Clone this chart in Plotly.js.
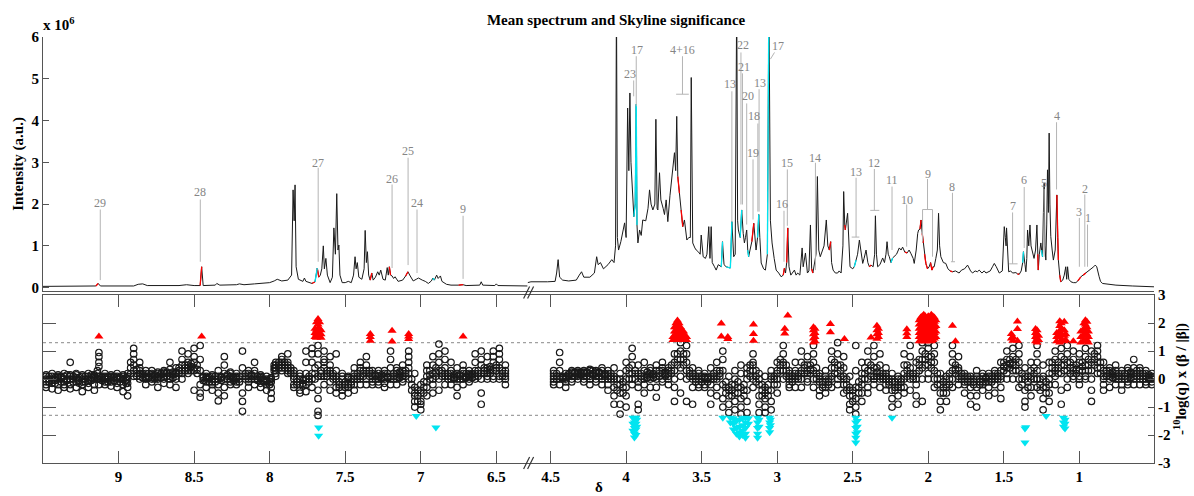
<!DOCTYPE html>
<html><head><meta charset="utf-8">
<script src="https://cdn.plot.ly/plotly-3.0.1.min.js"></script>
<style>html,body{margin:0;padding:0;background:#fff}#chart{width:1194px;height:496px}</style>
</head><body><div id="chart"></div>
<script>
// ---------------- DATA ----------------
const tickLeft = [9, 8.5, 8, 7.5, 7, 6.5];
const tickRight = [4.5, 4, 3.5, 3, 2.5, 2, 1.5, 1];
const tickIntensity = [0, 1, 2, 3, 4, 5, 6];
const tickSig = [-3, -2, -1, 0, 1, 2, 3];
const qThreshold = 1.3;

// mean spectrum, [ppm, intensity (x1e6), colour flag] ; r = significant up, c = significant down
const specLeft = [
[9.50,0.03],[9.30,0.03],[9.15,0.04],[9.135,0.10,'r'],[9.12,0.04],[8.90,0.04],[8.87,0.08],[8.84,0.09],[8.81,0.05],
[8.60,0.05],[8.55,0.07],[8.50,0.05],[8.46,0.05],[8.45,0.50,'r'],[8.44,0.05],[8.36,0.06],[8.35,0.10],[8.33,0.06],
[8.22,0.07],[8.20,0.09],[8.17,0.07],[8.10,0.09],[8.05,0.11],[8.00,0.12],[7.97,0.16],[7.95,0.20],[7.92,0.16],
[7.88,0.18],[7.855,0.30],[7.845,2.34],[7.838,1.6],[7.832,2.46],[7.825,0.5],[7.81,0.20],[7.78,0.15],[7.77,0.23],
[7.76,0.15],[7.74,0.12],[7.72,0.10],[7.70,0.14,'r'],[7.685,0.47,'c'],[7.675,0.25,'r'],[7.665,0.30],[7.655,0.45],
[7.645,1.00],[7.638,0.45],[7.628,0.70],[7.618,0.30],[7.60,0.12],[7.585,0.25],[7.575,1.43],[7.565,0.8],[7.556,2.25],
[7.548,0.9],[7.542,1.02],[7.535,0.3],[7.52,0.12],[7.50,0.12],[7.48,0.15],[7.46,0.12],[7.445,0.30],[7.435,0.74],
[7.428,0.45],[7.42,0.60],[7.41,0.25],[7.39,0.20],[7.375,0.45],[7.368,1.37],[7.36,0.6],[7.353,0.86],[7.345,0.3],
[7.335,0.18],[7.324,0.35,'r'],[7.315,0.18],[7.30,0.25],[7.285,0.38],[7.275,0.30],[7.265,0.42],[7.25,0.20],
[7.235,0.18],[7.222,0.48],[7.215,0.30],[7.208,0.50],[7.20,0.30,'r'],[7.19,0.28],[7.18,0.22],[7.17,0.26],
[7.15,0.15],[7.12,0.18],[7.10,0.28],[7.085,0.38,'r'],[7.07,0.28],[7.05,0.16],[7.03,0.20],[7.015,0.23],[6.99,0.18],
[6.97,0.15],[6.95,0.10],[6.93,0.16],[6.92,0.23],[6.91,0.18,'c'],[6.895,0.30],[6.885,0.22],[6.87,0.28],[6.86,0.15],
[6.83,0.08],[6.80,0.06],[6.75,0.06],[6.72,0.07,'r'],[6.70,0.05],[6.66,0.06],[6.61,0.06],[6.60,0.14],[6.59,0.06],
[6.51,0.05],[6.50,0.09],[6.49,0.05],[6.40,0.04],[6.293,0.04]
];
const specRight = [
[4.652,0.12],[4.63,0.14],[4.52,0.14],[4.47,0.15],[4.46,0.35],[4.45,0.67],[4.44,0.25],[4.42,0.18],[4.38,0.16],
[4.33,0.18],[4.31,0.30],[4.295,0.38],[4.28,0.25],[4.24,0.25],[4.21,0.35],[4.195,0.74],[4.185,0.55],[4.17,0.60],
[4.15,0.45],[4.12,0.55],[4.095,0.67],[4.08,0.60],[4.07,1.0],[4.064,7.0],[4.058,1.2],[4.05,0.9],[4.035,1.1],
[4.01,1.55],[4.00,1.2],[3.995,2.5],[3.99,4.3],[3.982,2.8],[3.975,4.66],[3.968,3.0],[3.96,2.35],[3.949,1.70],
[3.94,2.0,'c'],[3.933,4.39,'c'],[3.928,1.5,'c'],[3.922,1.07],[3.911,1.38],[3.90,1.25],[3.89,1.62],[3.87,1.6],
[3.855,1.9],[3.845,2.34],[3.835,2.0],[3.823,1.86],[3.81,2.0],[3.803,4.03],[3.795,1.9],[3.79,1.86],[3.779,2.75],
[3.77,2.1],[3.755,1.9],[3.746,1.75],[3.735,2.1],[3.724,1.58],[3.71,2.2],[3.70,2.6],[3.69,2.99],[3.68,3.23],
[3.672,2.8],[3.665,4.1],[3.658,2.66],[3.647,2.26,'r'],[3.636,1.86],[3.625,1.46,'r'],[3.614,1.62],[3.605,1.3],
[3.598,1.14],[3.585,1.2],[3.575,1.2],[3.569,5.03],[3.562,1.2],[3.559,1.07],[3.545,0.95],[3.536,0.9],[3.52,0.85],
[3.51,0.8],[3.503,1.26],[3.495,0.8],[3.49,0.74],[3.475,0.7],[3.465,0.8],[3.453,1.46],[3.445,0.7],[3.437,1.46],
[3.43,0.6],[3.415,0.5],[3.404,0.42],[3.39,0.55],[3.37,0.5],[3.362,1.10,'c'],[3.352,0.55],[3.338,0.50],
[3.31,0.47,'c'],[3.30,1.58,'c'],[3.288,0.74],[3.278,0.8],[3.268,7.0],[3.262,1.6],[3.257,1.38],[3.245,1.2],
[3.235,1.86,'c'],[3.225,1.3],[3.217,1.07],[3.21,1.2],[3.202,1.38],[3.195,0.9],[3.189,0.74,'c'],[3.18,0.9],
[3.168,1.1],[3.155,1.54,'r'],[3.148,1.2],[3.14,0.9],[3.13,1.2],[3.122,1.75,'c'],[3.115,1.2],[3.106,0.59],
[3.09,0.45],[3.078,0.42],[3.065,0.8],[3.055,7.0,'c'],[3.045,1.6],[3.034,1.07],[3.02,0.7],[3.007,0.42],[2.99,0.35],
[2.974,0.26],[2.96,0.30],[2.952,0.47,'r'],[2.945,0.35],[2.937,0.60],[2.93,1.43,'r'],[2.922,0.5],[2.91,0.3],
[2.90,0.35],[2.886,0.42],[2.875,0.3],[2.864,0.35],[2.85,0.3],[2.835,0.95],[2.828,0.5],[2.813,0.83],[2.80,0.35],
[2.79,0.4],[2.78,1.5],[2.772,0.45],[2.764,0.35,'r'],[2.752,0.66],[2.743,0.8],[2.734,2.66],[2.725,0.9],[2.715,0.74],
[2.70,0.9],[2.69,1.0],[2.675,1.62],[2.665,1.0],[2.655,0.9],[2.646,1.10,'r'],[2.64,0.6],[2.63,0.42],[2.615,0.35],
[2.60,0.35],[2.59,0.4],[2.577,0.35],[2.565,1.0],[2.56,2.30],[2.553,1.5],[2.549,1.38,'r'],[2.534,1.78],[2.525,0.8],
[2.518,0.5],[2.50,0.45],[2.49,0.5],[2.478,0.66,'c'],[2.468,0.8],[2.456,1.14],[2.445,0.8],[2.434,0.58],[2.425,0.7],
[2.412,0.9],[2.40,0.6],[2.39,0.5],[2.379,0.54,'r'],[2.365,0.5],[2.355,0.8],[2.35,1.72],[2.343,0.8],[2.335,0.5],
[2.32,0.55],[2.302,0.71],[2.29,0.6],[2.28,0.8],[2.273,1.10],[2.265,0.8],[2.258,0.74],[2.247,0.6],[2.236,0.71,'c'],
[2.225,0.75],[2.21,0.8],[2.192,0.95],[2.18,0.9],[2.17,0.97],[2.155,0.85],[2.14,0.83,'r'],[2.127,0.9],[2.114,0.81],
[2.10,0.7],[2.093,0.58],[2.08,0.9],[2.07,1.3],[2.064,1.38],[2.055,1.4],[2.048,1.62,'r'],[2.04,1.3],
[2.033,1.07,'r'],[2.025,0.8],[2.016,0.58,'r'],[2.005,0.45,'r'],[1.994,0.5],[1.985,0.6],[1.976,0.42,'r'],
[1.968,0.5,'r'],[1.961,0.5],[1.95,0.7],[1.94,0.9],[1.932,1.78],[1.925,1.0],[1.917,0.74],[1.90,0.6],[1.884,0.58],
[1.87,0.45],[1.855,0.4],[1.84,0.38,'r'],[1.82,0.4],[1.796,0.35],[1.78,0.42],[1.76,0.45],[1.74,0.54],[1.72,0.4],
[1.707,0.35],[1.69,0.4],[1.675,0.38],[1.663,0.42],[1.645,0.35],[1.63,0.4],[1.618,0.35],[1.59,0.4],[1.575,0.5],
[1.563,0.58],[1.55,0.5],[1.53,0.35],[1.51,0.4],[1.50,1.2],[1.497,1.46],[1.49,1.2],[1.485,1.0],[1.482,1.43],
[1.475,0.9],[1.468,0.38],[1.455,0.4],[1.442,0.35],[1.42,0.36],[1.41,0.33],[1.398,0.32,'r'],[1.385,0.4],[1.375,0.6],
[1.37,0.86,'c'],[1.36,0.55],[1.354,0.38],[1.348,0.7],[1.343,1.38],[1.335,1.0],[1.327,1.5],[1.32,1.0],[1.31,0.82],
[1.30,0.7],[1.29,0.9],[1.281,1.5],[1.275,0.8],[1.272,0.42,'r'],[1.265,0.8],[1.255,1.07],[1.25,0.9],[1.244,0.74,'c'],
[1.238,1.8],[1.233,2.5],[1.228,1.0],[1.222,0.66],[1.216,1.5],[1.211,2.82],[1.205,1.8],[1.20,3.70],[1.195,2.0],
[1.189,1.22],[1.18,0.9],[1.172,0.66],[1.16,0.9],[1.155,1.6],[1.149,2.22],[1.143,1.2,'r'],[1.139,0.66,'r'],
[1.13,0.3],[1.123,0.14,'r'],[1.11,0.18],[1.10,0.3],[1.09,0.5],[1.084,0.2],[1.078,0.5],[1.07,0.2],[1.056,0.14],
[1.04,0.12],[1.023,0.12],[1.01,0.16],[0.99,0.26,'r'],[0.975,0.3],[0.957,0.35,'r'],[0.945,0.4],[0.935,0.42],
[0.92,0.45],[0.905,0.5],[0.895,0.54],[0.885,0.5],[0.869,0.26],[0.86,0.15],[0.847,0.10],[0.80,0.07],[0.758,0.06],
[0.65,0.04],[0.518,0.02],[0.506,0.02]
];

// Skyline significance, non-significant bins: [ppm, values...]
const circleBins = [
[9.48,0.1,-0.1,-0.2,0,0.15,-0.3],[9.44,0,-0.15,0.2,-0.35,0.1,-0.05],[9.40,0.05,-0.2,0.15,-0.4,0,0.1],
[9.36,-0.1,0.2,0,-0.3,0.1,-0.2],[9.32,0.6,0.1,-0.2,0,-0.35,0.15],[9.28,0,0.15,-0.1,-0.3,0.05,0.2],
[9.24,-0.2,0,0.1,-0.45,0.15,-0.1],[9.20,0.1,-0.15,0,0.2,-0.3,-0.05],[9.16,0,0.1,-0.2,0.15,-0.4,0.05],
[9.13,0.95,0.8,0.6,0.45,0.1,0,-0.2],[9.09,0.05,0.1,0,-0.2,0.2,-0.1],[9.05,0,0.15,-0.25,0.1,0.05,-0.1],
[9.01,0.1,0,-0.15,0.2,0.05,-0.3],[8.97,0,-0.2,0.1,-0.45,0.15,0],[8.94,0.1,-0.3,-0.6,0,0.2,-0.15],
[8.90,1.1,0.9,0.7,0.5,0.3,0.1],[8.86,0.6,0.4,0.2,0.1,0,0.3],[8.82,0.1,0.3,0,-0.2,0.2,0.05],
[8.78,0.2,0,0.3,-0.1,0.15,0.05],[8.74,0,0.25,0.1,-0.3,0.2,0.05],[8.70,0.3,0.1,0,0.2,-0.15,0.25],
[8.66,0.6,0.35,0.2,0,0.1,-0.2],[8.62,0.4,0.2,0,-0.3,0.1,0.25],[8.58,1.0,0.7,0.5,0.3,0.2,0],
[8.54,0.9,0.6,0.4,0.5,0.3,0.2],[8.50,1.1,0.8,0.6,0.4,0.3,-0.4],[8.46,1.2,0.7,0.3,-0.2,-0.5,-0.65],
[8.42,0.2,0,-0.1,0.1,-0.3,0.05],[8.38,0.1,-0.2,0,-0.4,0.15,-0.1],[8.34,0.3,0,-0.2,-0.5,-0.78,0.1],
[8.30,0.8,0.5,0.2,0,-0.3,-0.6],[8.26,0.2,0.1,0,-0.1,0.25,-0.2],[8.22,0,0.1,-0.1,0.2,-0.2,0.05],
[8.18,1.0,0.4,0.1,-0.5,-0.8,-1.15],[8.14,0.2,0,-0.1,0.3,-0.3,0.1],[8.10,0.6,0.3,0.1,0,-0.2,0.2],
[8.06,0.1,0,-0.15,0.05,-0.3,0.15],[8.02,0,-0.1,-0.2,0.1,-0.4,-0.05],[7.99,-0.3,-0.5,-0.7,0,-0.1,0.05],
[7.96,0.4,0.5,0.3,0.6,0.2,0.1],[7.92,0.7,0.5,0.3,0.8,0.4,0.6],[7.88,0.5,0.3,0.6,0.2,0.9,0.4],
[7.84,0.3,0,-0.2,0.1,-0.3,0.2],[7.80,0.1,-0.4,-0.5,-0.2,0,0.2],[7.76,1.0,0.6,0.2,-0.2,-0.45,0],
[7.72,1.1,0.9,0.6,0.2,-0.3,0],[7.68,1.2,0.9,0.5,0.1,-0.4,-0.7,-1.15,-1.3],[7.64,1.0,0.7,0.4,0.1,-0.2,0.6],
[7.60,0.8,0.5,0.2,-0.1,-0.4,0.3],[7.56,0.9,0.3,0,-0.3,-0.5,0.1],[7.52,0.2,0,-0.2,-0.4,-0.6,0.1],
[7.48,0.1,-0.2,-0.5,-0.3,0,0.05],[7.44,0.4,0.1,-0.2,0,-0.4,0.2],[7.40,0.6,0.3,0,-0.2,0.1,0.4],
[7.36,0.8,0.5,0.2,0,-0.2,0.3],[7.32,0.3,0.1,0,-0.1,0.2,-0.2],[7.28,0.1,0,-0.2,0.2,-0.1,0.3],
[7.24,0.2,0,-0.15,0.3,0.1,-0.3],[7.20,1.0,0.7,0.4,0.1,0,-0.2],[7.16,0.3,0.1,0,-0.2,0.2,0.4],
[7.12,0.5,0.3,0.1,0,-0.1,0.2],[7.08,1.0,0.8,0.6,0.4,0.2,0],[7.04,0.2,-0.3,-0.6,-0.8,-1.0,-0.5],
[7.00,-0.2,-0.5,-0.8,-1.1,-0.4,-0.9],[6.96,0.1,-0.3,-0.6,0.3,-0.1,0.5],[6.92,0.8,0.5,0.2,-0.2,-0.5,0],
[6.88,1.25,0.9,0.6,0.3,0,-0.4],[6.84,1.0,0.7,0.4,0.1,-0.2,0.2],[6.80,0.6,0.3,0,-0.2,0.2,0.1],
[6.76,0.4,0.1,0,-0.6,0.2,-0.3],[6.72,0.5,0.3,0.2,0,0.1,-0.2],[6.68,0.3,0.1,0,0.2,-0.1,0.15],
[6.64,0.9,0.6,0.3,0.1,0,0.2],[6.60,1.0,0.7,0.5,0.2,0,-0.5,-0.9],[6.56,0.8,0.4,0.2,0,0.1,0.3],
[6.52,1.0,0.8,0.6,0.3,0.1,0],[6.48,1.1,0.9,0.7,0.4,0.1,0],[6.44,0.5,0.2,0,0.1,-0.2,0.3],
[4.48,0.3,0.1,0,-0.2,-0.1,0.2],[4.44,0.95,0.6,0.3,0,-0.2,0.1],[4.40,0.2,0,-0.1,0.1,-0.3,0.05],
[4.36,0.3,0.2,0.1,0,0.25,-0.1],[4.32,0.2,0.3,0.1,0.25,0,0.15],[4.28,0.3,0.2,0.1,0.25,0,-0.1],
[4.24,0.2,0.3,0.1,0.35,0,-0.2],[4.20,0.3,0.2,0.1,0,0.25,-0.1],[4.16,0.3,0.2,0.4,0.1,0,-0.2],
[4.12,0.3,0.1,0,-0.2,0.2,-0.4],[4.08,0.4,0.1,-0.3,-0.6,-0.9,0],[4.04,0.2,-0.2,-0.5,-0.9,-1.25,0],
[4.00,0.6,0.3,0,-0.3,-0.6,-1.0],[3.96,1.1,0.8,0.5,0.2,-0.2,0],[3.92,0.5,0.2,-0.1,-0.3,-0.9,-1.1],
[3.88,0.6,0.3,0.1,-0.2,-0.5,0],[3.84,0.4,0.2,0,-0.3,0.3,0.1],[3.80,0.5,0.3,0.1,-0.65,-0.3,0],
[3.76,0.6,0.4,0.2,0,0.3,-0.1],[3.72,0.4,0.3,0.1,0,0.2,-0.2],[3.68,0.9,0.6,0.3,-0.3,-0.8,0],
[3.64,1.3,1.0,0.7,0.4,0.1,-0.5],[3.60,1.2,0.9,0.6,0.3,0,-0.8],[3.56,0.4,0.2,0,-0.3,-0.9,0.1],
[3.52,0.3,0.1,0,-0.2,0.2,-0.3],[3.48,0.2,0,-0.2,0.1,-0.3,0.05],[3.44,0.4,0.1,-0.2,-0.5,-0.9,0],
[3.40,0.6,0.3,0,-0.3,-0.6,0.1],[3.36,1.0,0.7,0.3,-0.2,-0.7,-1.0],[3.32,0.1,-0.3,-0.6,-0.9,-1.2,-0.4],
[3.28,0.3,-0.2,-0.5,-0.8,-1.1,0],[3.24,0.5,0.2,-0.3,-0.7,-1.0,-1.25],[3.20,0.4,0,-0.4,-0.8,-1.2,0.2],
[3.16,0.9,0.6,0.3,0,-0.3,0.5],[3.12,0.2,-0.2,-0.6,-0.9,-1.2,0],[3.08,0.1,-0.3,-0.7,-1.0,-0.5,-1.2],
[3.04,0.3,0,-0.4,-0.8,-1.1,0.1],[3.00,0.6,0.2,-0.2,-0.5,0,0.3],[2.96,1.2,0.9,0.6,0.3,0,0.5],
[2.92,0.3,0,-0.2,0.2,-0.3,0.1],[2.88,0.6,0.3,0,-0.3,0.2,0.1],[2.84,1.0,0.6,0.3,0,-0.3,0.2],
[2.80,0.8,0.5,0.2,-0.1,0,0.3],[2.76,1.2,0.9,0.6,0.3,0,-0.3],[2.72,0.2,-0.1,-0.4,-0.6,0,0.1],
[2.68,0.3,0,-0.3,-0.5,0.1,-0.1],[2.64,1.0,0.7,0.4,0.1,0,-0.3],[2.60,1.3,0.9,0.5,0.2,0,-0.2],
[2.56,0.8,0.4,0.1,-0.2,-0.5,0],[2.52,0.1,-0.3,-0.6,-0.9,-1.1,-0.4],[2.48,1.2,0.3,-0.3,-0.7,-1.0,-1.25],
[2.44,0.6,0.2,-0.2,-0.5,-0.8,0],[2.40,1.0,0.6,0.3,0,-0.3,-0.5],[2.36,1.2,0.8,0.4,0.1,-0.2,0],
[2.32,0.9,0.5,0.2,0,-0.3,0.1],[2.28,0.4,0.1,-0.2,-0.4,0,0.2],[2.24,0.2,-0.1,-0.4,-0.7,-1.0,0],
[2.20,0.1,-0.3,-0.6,-0.9,-0.2,0],[2.16,0.9,0.5,0.2,0,-0.3,-0.5],[2.12,1.2,0.8,0.4,0,-0.4,0.2],
[2.08,0.6,0.2,-0.2,-0.6,-0.9,0],[2.04,1.3,1.0,0.7,0.4,0,-0.8],[2.00,1.3,1.1,0.8,0.5,0.2,0],
[1.96,1.2,0.9,0.6,0.3,0,-0.3],[1.92,0.2,-0.2,-0.5,-0.8,-1.1,0],[1.88,0.1,-0.2,-0.5,-0.8,0,-0.3],
[1.84,1.2,0.9,0.6,0.3,0,-0.3],[1.80,0.8,0.4,0.1,-0.2,0,0.3],[1.76,0.2,0,-0.2,-0.5,0.1,-0.1],
[1.72,0,-0.3,-0.6,-0.9,0.1,-0.1],[1.68,0.3,0,-0.3,-0.6,-1.0,0.1],[1.64,0.2,0,-0.2,-0.4,0.1,-0.1],
[1.60,0.1,0,-0.3,-0.6,0.2,-0.1],[1.56,0.3,0.1,0,-0.2,-0.5,0.2],[1.52,0.6,0.3,0,-0.3,-0.7,0.1],
[1.48,1.0,0.7,0.4,0.2,0,0.5],[1.44,1.1,0.8,0.5,0.3,0,0.6],[1.40,1.2,0.9,0.6,0.3,0,-0.3],
[1.36,0.4,0,-0.4,-0.8,-1.0,0.1],[1.32,0.6,0.3,0,-0.3,-0.6,0.1],[1.28,1.2,0.9,0.6,0.3,0,-0.3],
[1.24,0.5,0.1,-0.3,-0.7,-1.1,0],[1.20,0.6,0.2,-0.2,-0.5,-0.8,0],[1.16,1.0,0.7,0.4,0.1,-0.2,0.3],
[1.12,1.1,0.8,0.5,0.2,-0.4,-0.9],[1.08,1.2,0.9,0.6,0.3,0,-0.3],[1.04,1.0,0.7,0.4,0.1,0,0.3],
[1.00,0.9,0.6,0.3,0.1,0,-0.2],[0.96,1.1,0.8,0.5,0.3,0.1,0],[0.92,1.0,0.6,0.3,0,-0.4,-0.8],
[0.88,1.2,1.0,0.8,0.6,0.4,0.2],[0.84,0.6,0.3,0.1,0,-0.2,-0.4],[0.80,0.4,0.2,0,-0.3,0.1,0.3],
[0.76,0.5,0.3,0.1,0,-0.2,0.2],[0.72,0.3,0.1,0,-0.2,0.2,-0.4],[0.68,0.4,0.2,0,-0.1,0.3,-0.2],
[0.64,0.7,0.4,0.2,0,-0.2,0.1],[0.60,0.4,0.2,0,-0.2,0.3,0.1],[0.56,0.3,0.1,0,-0.2,0.2,-0.1],
[0.52,0.2,0,-0.1,0.1,-0.2,0.05]
];
// dense core of the non-significant band, bins in between the ones above
const bandBins = [
[9.46,-0.1,0,0.1],[9.42,-0.15,-0.05,0.05],[9.38,-0.1,0.05,0.1],[9.34,-0.05,0,0.15],[9.30,-0.1,0,0.1],
[9.26,-0.15,-0.05,0.05],[9.22,-0.1,0,0.1],[9.18,-0.05,0.05,0.15],[9.14,0,0.2,0.3],[9.11,-0.05,0.05,0.1],
[9.07,-0.1,0,0.1],[9.03,-0.05,0.05,0.1],[8.99,-0.1,0,0.05],[8.95,-0.15,-0.05,0.05],[8.92,0.2,0.4,0.6],
[8.88,0.1,0.2,0.35],[8.84,0.05,0.15,0.2],[8.80,0.05,0.1,0.2],[8.76,0,0.1,0.15],[8.72,0.05,0.15,0.2],
[8.68,0.1,0.2,0.25],[8.64,0.05,0.15,0.25],[8.60,0.2,0.3,0.4],[8.56,0.3,0.4,0.5],[8.52,0.3,0.45,0.55],
[8.48,0.2,0.35,0.5],[8.44,-0.05,0.05,0.1],[8.40,-0.1,0,0.05],[8.36,-0.1,0,0.1],[8.32,-0.05,0.05,0.1],
[8.28,0,0.1,0.15],[8.24,-0.05,0.05,0.1],[8.20,-0.1,0,0.1],[8.16,0,0.1,0.2],[8.12,0,0.1,0.15],
[8.08,-0.05,0,0.1],[8.04,-0.1,-0.05,0],[8.00,-0.2,-0.1,0],[7.97,0.3,0.4,0.5],[7.94,0.4,0.5,0.6],
[7.90,0.4,0.5,0.6],[7.86,0.2,0.3,0.4],[7.82,-0.2,-0.1,0],[7.78,-0.25,-0.15,-0.05],[7.74,-0.1,0,0.1],
[7.70,0,0.2,0.4],[7.66,0.1,0.2,0.3],[7.62,0.1,0.2,0.3],[7.58,0,0.1,0.2],[7.54,-0.3,-0.2,-0.1],
[7.50,-0.3,-0.2,-0.1],[7.46,-0.2,-0.1,0],[7.42,0,0.1,0.2],[7.38,0.1,0.2,0.3],[7.34,0.1,0.2,0.3],
[7.30,0,0.1,0.15],[7.26,0,0.05,0.15],[7.22,0.05,0.1,0.2],[7.18,0,0.1,0.2],[7.14,0.05,0.15,0.25],
[7.10,0.1,0.2,0.3],[7.06,-0.4,-0.2,0],[7.02,-0.8,-0.6,-0.4],[6.98,-0.5,-0.3,-0.1],[6.94,0,0.15,0.3],
[6.90,0.1,0.25,0.4],[6.86,0.1,0.2,0.3],[6.82,0,0.1,0.2],[6.78,0,0.05,0.15],[6.74,0,0.1,0.15],
[6.70,0.05,0.1,0.2],[6.66,0.05,0.15,0.2],[6.62,0.1,0.2,0.3],[6.58,0.2,0.3,0.4],[6.54,0.2,0.35,0.45],
[6.50,0.3,0.4,0.5],[6.46,0.1,0.2,0.3],
[4.46,0,0.1,0.2],[4.42,0,0.05,0.1],[4.38,0.1,0.15,0.2],[4.34,0.1,0.2,0.25],[4.30,0.15,0.2,0.25],
[4.26,0.1,0.2,0.25],[4.22,0.15,0.2,0.3],[4.18,0.1,0.2,0.25],[4.14,0.1,0.15,0.2],[4.10,0,0.1,0.2],
[4.06,-0.4,-0.2,0],[4.02,-0.5,-0.3,-0.1],[3.98,0,0.2,0.4],[3.94,0,0.2,0.3],[3.90,0,0.1,0.2],
[3.86,0.05,0.15,0.25],[3.82,0.05,0.15,0.2],[3.78,0.1,0.2,0.3],[3.74,0.1,0.15,0.25],[3.70,0.2,0.3,0.5],
[3.66,0.5,0.7,0.9],[3.62,0.5,0.7,0.9],[3.58,0.1,0.2,0.3],[3.54,-0.1,0,0.1],[3.50,-0.1,0,0.1],
[3.46,-0.1,0,0.05],[3.42,0,0.1,0.2],[3.38,0.1,0.2,0.3],[3.34,-0.5,-0.3,-0.1],[3.30,-0.6,-0.4,-0.2],
[3.26,-0.5,-0.3,-0.1],[3.22,-0.6,-0.4,-0.2],[3.18,0.1,0.3,0.5],[3.14,-0.1,0.1,0.3],[3.10,-0.6,-0.4,-0.2],
[3.06,-0.6,-0.4,-0.2],[3.02,-0.2,0,0.1],[2.98,0.3,0.5,0.7],[2.94,0.1,0.3,0.5],[2.90,-0.1,0,0.1],
[2.86,0,0.1,0.2],[2.82,0.2,0.4,0.5],[2.78,0.2,0.35,0.5],[2.74,0,0.2,0.4],[2.70,-0.3,-0.2,-0.1],
[2.66,-0.2,-0.1,0],[2.62,0.2,0.4,0.6],[2.58,0.1,0.3,0.5],[2.54,-0.4,-0.2,0],[2.50,-0.8,-0.6,-0.4],
[2.46,-0.5,-0.3,-0.1],[2.42,0,0.2,0.4],[2.38,0.1,0.3,0.5],[2.34,0.1,0.25,0.4],[2.30,0,0.1,0.2],
[2.26,-0.2,-0.1,0],[2.22,-0.4,-0.3,-0.1],[2.18,-0.3,-0.1,0],[2.14,0.1,0.3,0.5],[2.10,0,0.1,0.2],
[2.06,0.3,0.5,0.7],[2.02,0.5,0.7,0.9],[1.98,0.4,0.6,0.8],[1.94,-0.2,0,0.2],[1.90,-0.5,-0.3,-0.1],
[1.86,-0.2,0,0.2],[1.82,0.2,0.35,0.5],[1.78,0,0.1,0.2],[1.74,-0.1,0,0.1],[1.70,-0.2,-0.1,0],
[1.66,-0.2,-0.1,0],[1.62,-0.1,0,0.05],[1.58,-0.1,0,0.1],[1.54,0,0.1,0.2],[1.50,0.3,0.45,0.6],
[1.46,0.4,0.55,0.7],[1.42,0.3,0.5,0.7],[1.38,-0.2,0,0.2],[1.34,-0.3,-0.1,0.1],[1.30,0,0.2,0.4],
[1.26,-0.4,-0.2,0],[1.22,-0.5,-0.3,-0.1],[1.18,0.2,0.4,0.6],[1.14,0.2,0.4,0.6],[1.10,0.3,0.5,0.7],
[1.06,0.2,0.4,0.6],[1.02,0.2,0.35,0.5],[0.98,0.3,0.45,0.6],[0.94,0.3,0.5,0.7],[0.90,0.5,0.7,0.9],
[0.86,0.2,0.4,0.6],[0.82,0.1,0.2,0.3],[0.78,0.05,0.15,0.25],[0.74,0,0.1,0.2],[0.70,0,0.1,0.2],
[0.66,0.05,0.15,0.25],[0.62,0.1,0.2,0.3],[0.58,0,0.1,0.2],[0.54,0,0.05,0.15]
];

// significant, positive coefficient: [ppm, values...]
const upTri = [
[9.13,1.52],[8.45,1.52],[7.70,1.5,1.65,1.8],[7.69,1.48,1.6,1.75,2.03],[7.68,1.5,1.62,1.8,1.95,2.15],
[7.67,1.5,1.65,1.8,2.03],[7.66,1.48,1.6,1.75],[7.334,1.37,1.5,1.61],[7.19,1.34,1.73],[7.08,1.43,1.52,1.61],
[6.72,1.52],
[3.69,1.4,1.5],[3.68,1.4,1.55,1.7,1.85],[3.67,1.4,1.55,1.7,1.85,2.0],[3.66,1.4,1.55,1.7,1.85,2.0,2.09],
[3.65,1.4,1.55,1.7,1.85,2.0],[3.64,1.4,1.55,1.7,1.85],[3.63,1.4,1.55,1.7],[3.62,1.4,1.55,1.7],[3.61,1.4,1.55],
[3.60,1.4,1.5],[3.37,1.52,1.99],[3.327,1.43,1.5],[3.157,1.37,1.61,1.95],[2.95,1.63,1.80],[2.93,2.27],
[2.76,1.31,1.45,1.6,1.75,1.85],[2.75,1.35,1.5,1.65,1.8],[2.648,1.67,1.97],[2.555,1.43],[2.379,1.49],
[2.34,1.44,1.6,1.75,1.91],[2.33,1.5,1.65,1.8],[2.142,1.5,1.64,1.78],
[2.06,1.35,1.5,1.65,1.8,1.95,2.1],[2.05,1.4,1.55,1.7,1.85,2.0,2.2],[2.04,1.35,1.5,1.65,1.8,1.95,2.1,2.25],
[2.03,1.4,1.55,1.7,1.85,2.0,2.15,2.3],[2.02,1.35,1.5,1.65,1.8,1.95,2.1,2.25],[2.01,1.4,1.55,1.7,1.85,2.0,2.15],
[2.00,1.35,1.5,1.65,1.8,1.95,2.1,2.25],[1.99,1.4,1.55,1.7,1.9,2.05,2.2],[1.98,1.35,1.5,1.7,1.85,2.0,2.15,2.3],
[1.97,1.4,1.55,1.75,1.95,2.1,2.25],[1.96,1.45,1.65,1.85,2.05,2.2],[1.95,1.5,1.7,1.9,2.1],
[1.84,1.91],[1.82,1.35],[1.45,1.45,1.61],[1.44,1.37,1.5],[1.41,1.37,1.79,2.06],
[1.29,1.35,1.5,1.65,1.79],[1.28,1.31,1.45,1.6,1.75],[1.27,1.4,1.55],[1.15,1.35,1.5,1.65],
[1.13,1.31,1.5,1.7,1.9,2.07],[1.12,1.4,1.6,1.8,2.0],[1.10,1.35,1.55,1.75,2.05],[1.09,1.4,1.6],[1.04,1.35],
[0.99,1.31,1.5,1.7],[0.97,1.4,1.6,1.8,2.0],[0.96,1.35,1.55,1.75,1.95,2.1],[0.95,1.4,1.6,1.85,2.05],[0.94,1.31,1.5,1.7]
];
// significant, negative coefficient: [ppm, values...]
const downTri = [
[7.676,-1.73,-2.03],[7.03,-1.32],[6.90,-1.73],
[3.955,-1.38,-1.6,-1.85],[3.945,-1.4,-1.55,-1.75,-1.95,-2.09],[3.935,-1.38,-1.6,-1.8,-2.0],[3.93,-1.45,-1.7],
[3.36,-1.38],[3.31,-1.38,-1.55],[3.29,-1.4,-1.6,-1.8],[3.27,-1.5,-1.75,-1.95],[3.25,-1.45,-1.7,-1.9,-2.05],
[3.23,-1.4,-1.65,-1.85,-2.0],[3.21,-1.38,-1.55,-1.75,-1.95,-2.1],[3.19,-1.4,-1.6],
[3.13,-1.38,-1.55,-1.75,-1.95,-2.1],[3.12,-1.45,-1.7],[3.05,-1.38,-1.55,-1.75,-1.9],[3.045,-1.45,-1.65],
[2.48,-1.38,-1.55,-1.75,-1.95,-2.1,-2.27],[2.47,-1.5,-1.7,-1.9],[2.24,-1.38],[1.36,-1.77,-2.27],[1.355,-1.72],
[1.22,-1.32],[1.105,-1.38,-1.55,-1.7],[1.095,-1.45,-1.6,-1.77]
];

// assignment labels: [text, label ppm, label intensity, line ppm top, line top, line ppm bottom, line bottom]
const labelRows = [
['29',9.121,2.03,9.121,1.87,9.121,0.18],['28',8.459,2.30,8.459,2.11,8.459,0.62],
['27',7.679,2.99,7.679,2.87,7.679,0.62],['26',7.190,2.61,7.190,2.47,7.190,0.47],
['25',7.084,3.26,7.084,3.11,7.084,0.54],['24',7.025,2.03,7.025,1.87,7.025,0.35],
['9',6.720,1.89,6.720,1.72,6.720,0.21],
['23',3.977,5.11,3.950,4.96,3.950,4.58],['17',3.931,5.70,3.933,5.54,3.933,4.34],
['4+16',3.627,5.70,3.627,5.54,3.627,4.63],['13',3.310,4.87,3.300,4.70,3.300,1.58],
['22',3.227,5.80,3.240,5.63,3.240,1.99],['21',3.217,5.27,3.230,5.13,3.230,1.99],
['20',3.195,4.58,3.202,4.41,3.202,1.51],['18',3.151,4.10,3.128,3.93,3.128,1.82],
['13',3.113,4.91,3.120,4.75,3.120,1.82],['19',3.157,3.23,3.160,3.07,3.160,1.63],
['17',2.992,5.78,3.018,5.63,3.045,5.47],['16',2.966,2.01,2.955,1.84,2.955,0.62],
['15',2.933,2.99,2.933,2.83,2.933,1.48],['14',2.747,3.11,2.747,2.99,2.747,0.42],
['13',2.478,2.76,2.478,2.63,2.478,1.21],['12',2.357,2.99,2.357,2.84,2.357,1.85],
['11',2.240,2.57,2.240,2.42,2.240,0.90],['10',2.143,2.11,2.143,1.99,2.143,0.98],
['9',2.005,2.73,2.005,2.60,2.005,1.87],['8',1.840,2.41,1.840,2.27,1.840,0.62],
['7',1.442,1.96,1.442,1.80,1.442,0.57],['6',1.365,2.57,1.365,2.41,1.365,0.95],
['5',1.233,2.51,1.233,2.36,1.233,0.74],['4',1.151,4.10,1.151,3.96,1.151,2.35],
['3',1.000,1.82,1.000,1.67,1.000,0.50],['2',0.964,2.36,0.964,2.23,0.964,0.50],
['1',0.946,1.67,0.946,1.51,0.946,0.50]
];
// horizontal bars / bracket legs of assignments: [ppm0, int0, ppm1, int1]
const labelBars = [
[3.669,4.63,3.585,4.63],[2.507,1.21,2.456,1.21],[2.384,1.85,2.324,1.85],
[2.038,1.87,1.972,1.87],[2.038,1.87,2.038,1.10],[1.972,1.87,1.972,0.74],
[1.850,0.62,1.823,0.62],[1.464,0.57,1.409,0.57]
];

// ---------------- BUILD ----------------
const SERIF = 'Liberation Serif, Times New Roman, serif';
const BLACK = '#1a1a1a', RED = '#ff0000', CYAN = '#00e4f0', LABEL = '#858585';
const SPLIT = 5; // ppm value separating the two halves of the broken axis

const traces = [];
function spectrum(rows, xa) {
  traces.push({x: rows.map(r => r[0]), y: rows.map(r => r[1]), xaxis: xa, yaxis: 'y2',
    type: 'scatter', mode: 'lines', line: {color: BLACK, width: 1}, hoverinfo: 'skip'});
  [['r', RED], ['c', CYAN]].forEach(([flag, col]) => {
    const x = [], y = [];
    rows.forEach((r, i) => {
      if (r[2] === flag && i > 0) { x.push(rows[i - 1][0], r[0], null); y.push(rows[i - 1][1], r[1], null); }
    });
    traces.push({x, y, xaxis: xa, yaxis: 'y2', type: 'scatter', mode: 'lines',
      line: {color: col, width: 1.3}, connectgaps: false, hoverinfo: 'skip'});
  });
}
spectrum(specLeft, 'x3');
spectrum(specRight, 'x4');

// assignment lines
['x3', 'x4'].forEach(xa => {
  const x = [], y = [];
  labelRows.forEach(r => {
    if ((r[1] > SPLIT) === (xa === 'x3')) { x.push(r[3], r[5], null); y.push(r[4], r[6], null); }
  });
  labelBars.forEach(b => {
    if ((b[0] > SPLIT) === (xa === 'x3')) { x.push(b[0], b[2], null); y.push(b[1], b[3], null); }
  });
  traces.push({x, y, xaxis: xa, yaxis: 'y2', type: 'scatter', mode: 'lines',
    line: {color: '#b4b4b4', width: 1}, hoverinfo: 'skip'});
});

function markerTrace(binSets, side, marker) {
  const x = [], y = [];
  binSets.forEach(bins => bins.forEach(b => {
    if ((b[0] > SPLIT) === (side === 'L')) { for (let k = 1; k < b.length; k++) { x.push(b[0]); y.push(b[k]); } }
  }));
  traces.push({x, y, xaxis: side === 'L' ? 'x' : 'x2', yaxis: side === 'L' ? 'y' : 'y3',
    type: 'scatter', mode: 'markers', marker, hoverinfo: 'skip', cliponaxis: true});
}
['L', 'R'].forEach(s => {
  markerTrace([bandBins, circleBins], s, {symbol: 'circle-open', size: 6.5, color: BLACK, line: {width: 1.2, color: BLACK}});
  markerTrace([upTri], s, {symbol: 'triangle-up', size: 8, color: RED});
  markerTrace([downTri], s, {symbol: 'triangle-down', size: 8, color: CYAN});
});

const annotations = labelRows.map(r => ({
  xref: r[1] > SPLIT ? 'x3' : 'x4', yref: 'y2', x: r[1], y: r[2], text: r[0], showarrow: false,
  font: {family: SERIF, size: 12, color: LABEL}, xanchor: 'center', yanchor: 'middle'
}));
annotations.push({xref: 'paper', yref: 'paper', x: 0, y: 1, xanchor: 'left', yanchor: 'bottom', yshift: 2, xshift: -2,
  text: '<b>x 10<sup>6</sup></b>', showarrow: false, font: {family: SERIF, size: 15, color: '#000'}});
annotations.push({xref: 'paper', yref: 'paper', x: 0.5, y: 0, yanchor: 'top', yshift: -14,
  text: '<b>δ</b>', showarrow: false, font: {family: SERIF, size: 15, color: '#000'}});

const DL = [0, 0.4362], DR = [0.4362, 1];
const YB = [0, 0.394], YT = [0.4038, 1];
const tickFont = {family: SERIF, size: 15, color: '#000', weight: 'bold'};
const baseX = {showgrid: false, zeroline: false, showline: true, linecolor: '#555', linewidth: 1,
  ticks: 'inside', ticklen: 12, tickcolor: '#555', mirror: 'ticks', tickfont: tickFont};

const thr = v => ({type: 'line', xref: 'paper', x0: 0, x1: 1, yref: 'y', y0: v, y1: v,
  line: {color: '#a0a0a0', width: 1.2, dash: 'dot'}, layer: 'below'});
const brk = (yAnchor, dx) => ({type: 'line', xref: 'paper', xsizemode: 'pixel', xanchor: DL[1],
  x0: -4 + dx, x1: 2 + dx, yref: 'paper', ysizemode: 'pixel', yanchor: yAnchor, y0: -6, y1: 6,
  line: {color: '#333', width: 1.2}});

const layout = {
  width: 1194, height: 496, paper_bgcolor: '#fff', plot_bgcolor: 'rgba(0,0,0,0)',
  margin: {l: 43, r: 40, t: 37, b: 33}, showlegend: false,
  title: {text: '<b>Mean spectrum and Skyline significance</b>', x: 0.516, xref: 'container',
    y: 0.96, yref: 'container', yanchor: 'middle', font: {family: SERIF, size: 15, color: '#000'}},
  xaxis: Object.assign({}, baseX, {domain: DL, anchor: 'y', range: [9.5, 6.293], tickvals: tickLeft,
    ticktext: tickLeft.map(String)}),
  xaxis2: Object.assign({}, baseX, {domain: DR, anchor: 'y3', range: [4.652, 0.506], tickvals: tickRight,
    ticktext: tickRight.map(String)}),
  xaxis3: {domain: DL, anchor: 'y2', range: [9.5, 6.293], showgrid: false, zeroline: false, showline: true,
    linecolor: '#555', ticks: '', showticklabels: false},
  xaxis4: {domain: DR, anchor: 'y2', range: [4.652, 0.506], showgrid: false, zeroline: false, showline: true,
    linecolor: '#555', ticks: '', showticklabels: false},
  yaxis: {domain: YB, anchor: 'x', range: [-3, 3], tickvals: tickSig, showticklabels: false, ticks: 'inside',
    ticklen: 13, tickcolor: '#555', showline: true, linecolor: '#555', showgrid: false, zeroline: false},
  yaxis3: {domain: YB, anchor: 'x2', side: 'right', range: [-3, 3], tickvals: tickSig, ticktext: tickSig.map(String),
    ticks: 'inside', ticklen: 6, tickcolor: '#555', showline: true, linecolor: '#555', showgrid: false,
    zeroline: false, tickfont: tickFont,
    title: {text: '<b>-<sup>10</sup>log(q) x (β / |β|)</b>', font: {family: SERIF, size: 15, color: '#000'}, standoff: 6}},
  yaxis2: {domain: YT, anchor: 'x3', range: [-0.08, 6], tickvals: tickIntensity, ticktext: tickIntensity.map(String),
    ticks: 'inside', ticklen: 6, tickcolor: '#555', showline: true, linecolor: '#555', showgrid: false,
    zeroline: false, tickfont: tickFont,
    title: {text: '<b>Intensity (a.u.)</b>', font: {family: SERIF, size: 15, color: '#000'}, standoff: 4}},
  shapes: [thr(qThreshold), thr(-qThreshold), brk(0.4002, 0), brk(0.4002, 4), brk(0, 0), brk(0, 4)],
  annotations
};
Plotly.newPlot('chart', traces, layout, {displayModeBar: false, staticPlot: true});
</script>
</body></html>
